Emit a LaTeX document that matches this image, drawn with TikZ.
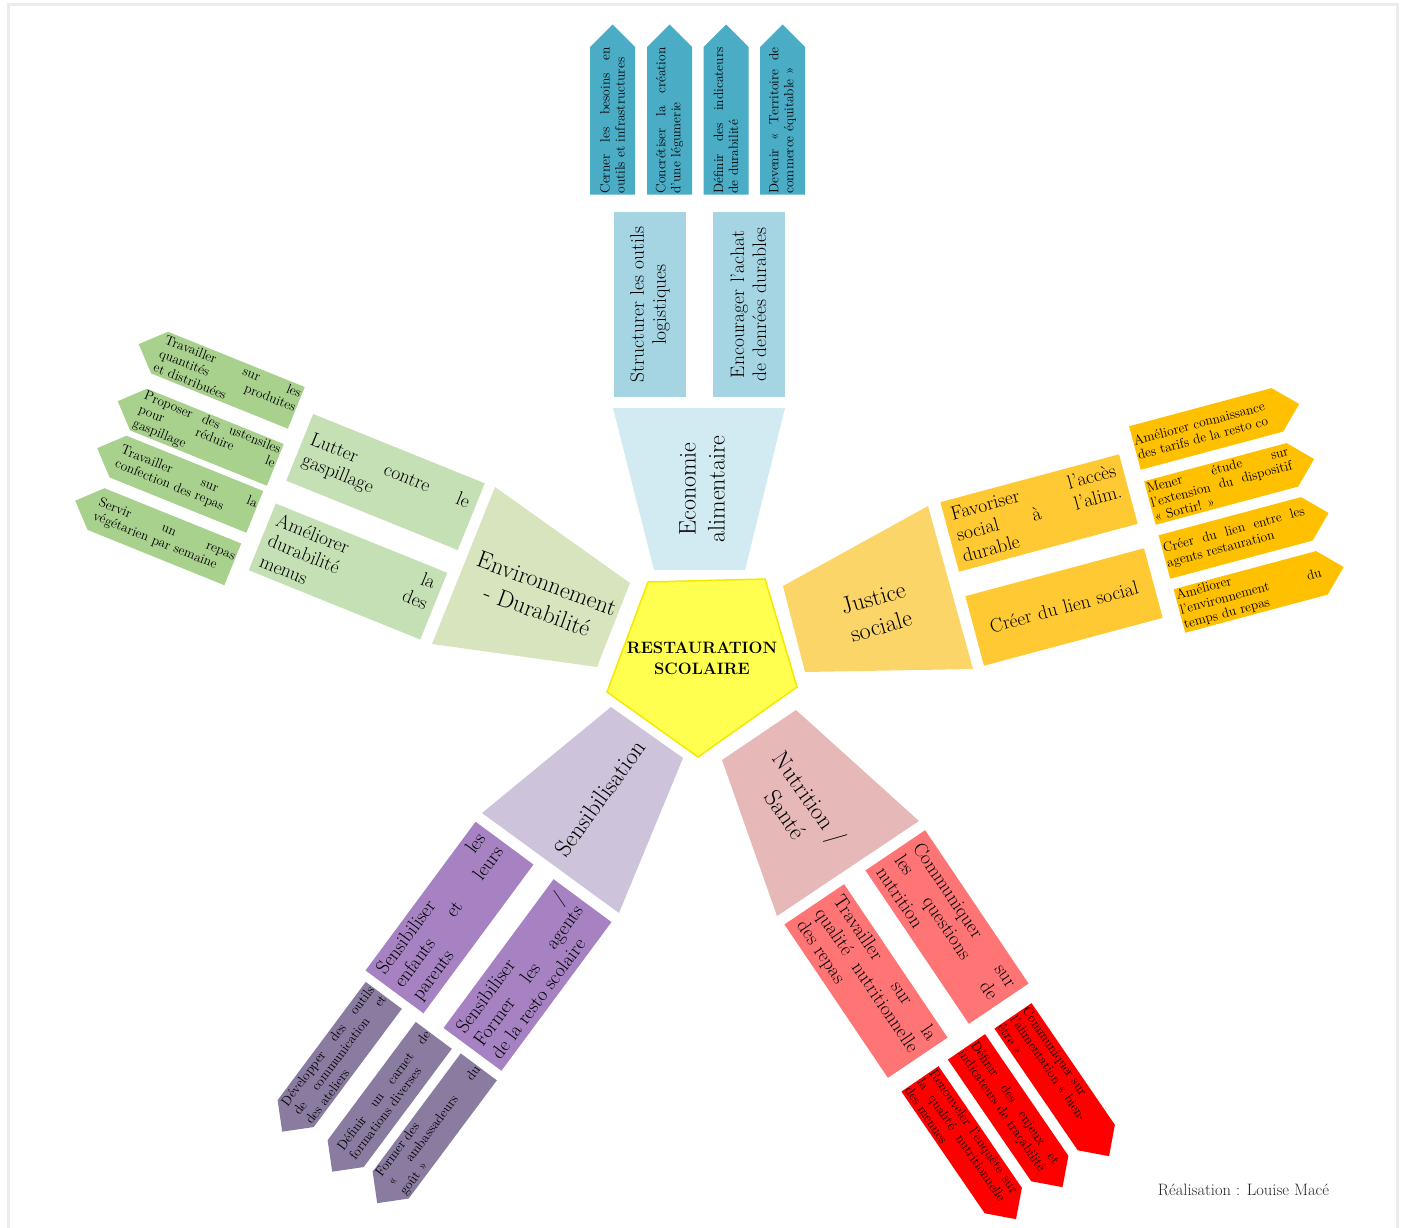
\documentclass[tikz,border=0pt]{standalone}
\usepackage{fontspec}
\hbadness=10000

\definecolor{bleuA}{HTML}{4BACC6}
\definecolor{bleuB}{HTML}{A5D5E2}
\definecolor{bleuC}{HTML}{D2EAF1}
\definecolor{vertA}{HTML}{A9D18E}
\definecolor{vertB}{HTML}{C5E0B4}
\definecolor{vertC}{HTML}{D7E4BD}
\definecolor{orA}{HTML}{FFC000}
\definecolor{orB}{HTML}{FFC933}
\definecolor{orC}{HTML}{FCD569}
\definecolor{vioA}{HTML}{8A7CA0}
\definecolor{vioB}{HTML}{A682C2}
\definecolor{vioC}{HTML}{CDC3DB}
\definecolor{rouA}{HTML}{FF0000}
\definecolor{rouB}{HTML}{FF7575}
\definecolor{rouC}{HTML}{E6B9B8}
\definecolor{jaune}{HTML}{FFFF4F}
\definecolor{jauneb}{HTML}{F5E800}

\tikzset{
  actiontext/.style={text width=146pt, align=justify, inner sep=0pt, font=\fontsize{13.5}{15}\selectfont},
  sousbox/.style={minimum width=185pt, minimum height=72pt, text width=170pt, inner sep=0pt, align=justify, font=\fontsize{19.5}{22}\selectfont},
  themetext/.style={align=center, inner sep=0pt, font=\fontsize{24}{29}\selectfont},
}

% action arrow: name, centre, tip angle, colour, text angle, text
\newcommand{\fleche}[6]{%
  \begin{scope}[shift={#2}, rotate=#3]
    \fill[#4] (-85,-22.5) -- (62.5,-22.5) -- (85,0) -- (62.5,22.5) -- (-85,22.5) -- cycle;
    \node[actiontext, rotate=#5] (#1) at (-11,0) {#6};
  \end{scope}}

\begin{document}
\begin{tikzpicture}[x=1pt,y=-1pt]
  \useasboundingbox (0,0) rectangle (1402,1228);
  \draw[gray!15, line width=3pt] (8,5) rectangle (1397,1236);

  % centre
  \filldraw[fill=jaune, draw=jauneb, line width=1.5pt] (648,582) -- (765,579) -- (797,687) -- (698,757) -- (607,692) -- cycle;
  \node[align=center, inner sep=0pt, font=\bfseries\fontsize{16.5}{21}\selectfont] (centre) at (702,658.5) {RESTAURATION\\SCOLAIRE};

  % Economie alimentaire
  \fill[bleuC] (613,408) -- (785,408) -- (745,570) -- (654,570) -- cycle;
  \node[themetext, rotate=90] (economie) at (702,489) {Economie\\alimentaire};
  \node[sousbox, fill=bleuB, rotate=90, align=center] (structurer) at (650,304.5) {Structurer les outils\\logistiques};
  \node[sousbox, fill=bleuB, rotate=90, align=center] (encourager) at (748.5,304.5) {Encourager l’achat\\de denrées durables};
  \fleche{b1}{(612.5,109.5)}{90}{bleuA}{90}{Cerner les besoins en\linebreak outils et infrastructures}
  \fleche{b2}{(669.5,109.5)}{90}{bleuA}{90}{Concrétiser la création\linebreak d’une légumerie}
  \fleche{b3}{(726,109.5)}{90}{bleuA}{90}{Définir des indicateurs\linebreak de durabilité}
  \fleche{b4}{(782.5,109.5)}{90}{bleuA}{90}{Devenir « Territoire de\linebreak commerce équitable »}

  % Environnement - Durabilite
  \fill[vertC] (495,487) -- (630,583) -- (597,667) -- (432,644) -- cycle;
  \node[themetext, rotate=-20] (environnement) at (542,597) {Environnement\\- Durabilité};
  \node[sousbox, fill=vertB, rotate=-22] (lutter) at (385.5,482) {Lutter contre le\linebreak gaspillage};
  \node[sousbox, fill=vertB, rotate=-22] (menus) at (348,571.5) {Améliorer la\linebreak durabilité des\linebreak menus};
  \fleche{g1}{(217.5,376)}{158}{vertA}{-22}{Travailler sur les\linebreak quantités produites\linebreak et distribuées}
  \fleche{g2}{(196.5,433)}{158}{vertA}{-22}{Proposer des ustensiles\linebreak pour réduire le\linebreak gaspillage}
  \fleche{g3}{(176,480)}{158}{vertA}{-22}{Travailler sur la\linebreak confection des repas}
  \fleche{g4}{(154,532.5)}{158}{vertA}{-22}{Servir un repas\linebreak végétarien par semaine}

  % Justice sociale
  \fill[orC] (783,586) -- (928,506) -- (973,669) -- (805,672) -- cycle;
  \node[themetext, rotate=16] (justice) at (877,612) {Justice\\sociale};
  \node[sousbox, fill=orB, rotate=15] (favoriser) at (1039,513) {Favoriser l’accès\linebreak social à l’alim.\linebreak durable};
  \node[sousbox, fill=orB, rotate=15, align=center] (lien) at (1064,607) {Créer du lien social};
  \fleche{o1}{(1217,426)}{15}{orA}{15}{Améliorer connaissance\newline des tarifs de la resto co}
  \fleche{o2}{(1232,481)}{15}{orA}{15}{Mener étude sur\linebreak l’extension du dispositif\linebreak « Sortir! »}
  \fleche{o3}{(1246.5,535)}{15}{orA}{15}{Créer du lien entre les\linebreak agents restauration}
  \fleche{o4}{(1261.5,589)}{15}{orA}{15}{Améliorer\newline l’environnement du\linebreak temps du repas}

  % Sensibilisation
  \fill[vioC] (611,707) -- (683,758) -- (619,913) -- (482,813) -- cycle;
  \node[themetext, rotate=54] (sensibilisation) at (600,798) {Sensibilisation};
  \node[sousbox, fill=vioB, rotate=53.5] (parents) at (449.5,917.5) {Sensibiliser les\linebreak enfants et leurs\linebreak parents};
  \node[sousbox, fill=vioB, rotate=53.5] (agents) at (527.5,975) {Sensibiliser /\linebreak Former les agents\linebreak de la resto scolaire};
  \fleche{p1}{(333,1063.5)}{233.3}{vioA}{53.3}{Développer des outils\linebreak de communication et\linebreak des ateliers}
  \fleche{p2}{(383,1103.5)}{233.3}{vioA}{53.3}{Définir un carnet de\linebreak formations diverses}
  \fleche{p3}{(428,1135)}{233.3}{vioA}{53.3}{Former des\newline « ambassadeurs du\linebreak goût »}

  % Nutrition / Sante
  \fill[rouC] (796,710) -- (919,821) -- (777,916) -- (722,760) -- cycle;
  \node[themetext, rotate=-55] (nutrition) at (798,806) {Nutrition /\\Santé};
  \node[sousbox, fill=rouB, rotate=-56] (communiquer) at (947,927) {Communiquer sur\linebreak les questions de\linebreak nutrition};
  \node[sousbox, fill=rouB, rotate=-56] (qualite) at (866,981) {Travailler sur la\linebreak qualité nutritionnelle\linebreak des repas};
  \fleche{r1}{(1061,1086)}{-55.6}{rouA}{-55.6}{Communiquer sur\newline l’alimentation « bien-\newline être »}
  \fleche{r2}{(1014.5,1117)}{-55.6}{rouA}{-55.6}{Définir des enjeux et\linebreak indicateurs de traçabilité}
  \fleche{r3}{(968,1149)}{-55.6}{rouA}{-55.6}{Renouveler l’enquête sur\linebreak la qualité nutritionnelle\linebreak des menues}

  \node[font=\fontsize{16.5}{19}\selectfont, text=black!85, inner sep=0pt] (credit) at (1243.5,1190) {Réalisation : Louise Macé};
\end{tikzpicture}
\end{document}
